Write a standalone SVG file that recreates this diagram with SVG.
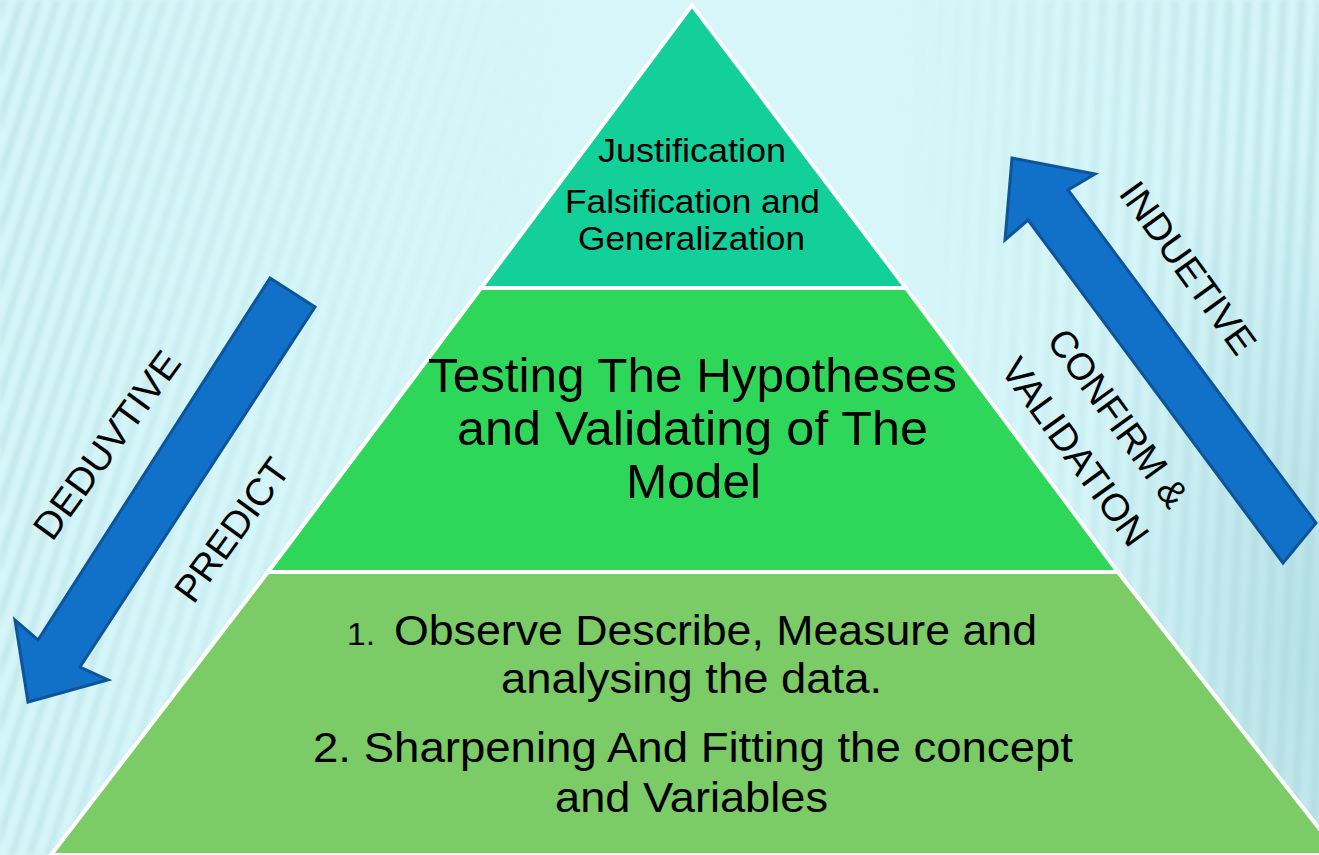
<svg xmlns="http://www.w3.org/2000/svg" width="1319" height="855" viewBox="0 0 1319 855">
<style>
.pyr{font-family:"Liberation Sans Narrow","Liberation Sans",Arial,sans-serif;fill:#000;}
.lbl{font-family:"Liberation Sans",Arial,sans-serif;font-size:38px;fill:#000;text-anchor:middle;}
.band{stroke:#fff;stroke-width:4;stroke-linejoin:miter;}
.arrow{fill:#1170C8;stroke:#0D5499;stroke-width:3;stroke-linejoin:miter;}
</style>
<defs>
<pattern id="diag" width="17" height="40" patternUnits="userSpaceOnUse" patternTransform="rotate(18)">
<rect x="0" y="0" width="7" height="40" fill="#BCE4E9"/>
</pattern>
<pattern id="vert" width="18" height="40" patternUnits="userSpaceOnUse" patternTransform="rotate(3)">
<rect x="0" y="0" width="8" height="40" fill="#B8E0E5"/>
</pattern>
<filter id="soft" x="0" y="0" width="1" height="1">
<feGaussianBlur stdDeviation="2"/>
</filter>
<linearGradient id="fadeL" x1="0" y1="0" x2="1" y2="0">
<stop offset="0" stop-color="#fff" stop-opacity="0.75"/>
<stop offset="0.6" stop-color="#fff" stop-opacity="0.3"/>
<stop offset="1" stop-color="#fff" stop-opacity="0"/>
</linearGradient>
<linearGradient id="fadeR" x1="0" y1="0" x2="1" y2="0">
<stop offset="0" stop-color="#fff" stop-opacity="0"/>
<stop offset="0.5" stop-color="#fff" stop-opacity="0.4"/>
<stop offset="1" stop-color="#fff" stop-opacity="0.7"/>
</linearGradient>
<radialGradient id="shadeR" cx="1" cy="0.75" r="0.6">
<stop offset="0" stop-color="#A3D4DA" stop-opacity="0.6"/>
<stop offset="1" stop-color="#A3D4DA" stop-opacity="0"/>
</radialGradient>
<mask id="mL"><rect x="0" y="0" width="560" height="855" fill="url(#fadeL)"/></mask>
<mask id="mR"><rect x="900" y="0" width="419" height="855" fill="url(#fadeR)"/></mask>
</defs>

<g id="background">
<rect x="0" y="0" width="1319" height="855" fill="#D6F6F9"/>
<g mask="url(#mL)"><rect x="0" y="0" width="560" height="855" fill="url(#diag)" filter="url(#soft)"/></g>
<g mask="url(#mR)"><rect x="900" y="0" width="419" height="855" fill="url(#vert)" filter="url(#soft)"/></g>
<rect x="900" y="0" width="419" height="855" fill="url(#shadeR)"/>
</g>

<g id="band-top">
<polygon class="band" points="692,5 481,288 906,288" fill="#13CF99"/>
<text class="pyr" font-size="33" x="598" y="162" textLength="188" lengthAdjust="spacingAndGlyphs">Justification</text>
<text class="pyr" font-size="33" x="565" y="213" textLength="255" lengthAdjust="spacingAndGlyphs">Falsification and</text>
<text class="pyr" font-size="33" x="578" y="250" textLength="227" lengthAdjust="spacingAndGlyphs">Generalization</text>
</g>

<g id="band-middle">
<polygon class="band" points="481,288 906,288 1118,572 268,572" fill="#2ED75A"/>
<text class="pyr" font-size="48" x="428" y="392" textLength="529" lengthAdjust="spacingAndGlyphs">Testing The Hypotheses</text>
<text class="pyr" font-size="48" x="457" y="445" textLength="471" lengthAdjust="spacingAndGlyphs">and Validating of The</text>
<text class="pyr" font-size="48" x="626" y="498" textLength="135" lengthAdjust="spacingAndGlyphs">Model</text>
</g>

<g id="band-bottom">
<polygon class="band" points="268,572 1118,572 1340,855 51,855" fill="#7BCB66"/>
<text class="pyr" font-size="31" x="347" y="645" textLength="28" lengthAdjust="spacingAndGlyphs">1.</text>
<text class="pyr" font-size="43" x="394" y="645" textLength="643" lengthAdjust="spacingAndGlyphs">Observe Describe, Measure and</text>
<text class="pyr" font-size="43" x="501" y="693" textLength="381" lengthAdjust="spacingAndGlyphs">analysing the data.</text>
<text class="pyr" font-size="43" x="313" y="762" textLength="760" lengthAdjust="spacingAndGlyphs">2. Sharpening And Fitting the concept</text>
<text class="pyr" font-size="43" x="555" y="812" textLength="273" lengthAdjust="spacingAndGlyphs">and Variables</text>
</g>

<g id="connectors">
<path id="arrow-deductive" class="arrow" d="M270,278 L315,307 L80,667 L108,680 L28,702 L15,620 L38,640 Z"/>
<path id="arrow-inductive" class="arrow" d="M1012,158 L1095,174 L1068,190 L1316,523 L1283,563 L1028,220 L1005,240 Z"/>
</g>

<g id="label-deductive">
<text class="lbl" transform="translate(107,445) rotate(-54)" dy="13" textLength="222" lengthAdjust="spacingAndGlyphs">DEDUVTIVE</text>
</g>
<g id="label-predict">
<text class="lbl" transform="translate(232,530) rotate(-54)" dy="13" textLength="167" lengthAdjust="spacingAndGlyphs">PREDICT</text>
</g>
<g id="label-inductive">
<text class="lbl" transform="translate(1188,268) rotate(54)" dy="13" textLength="203" lengthAdjust="spacingAndGlyphs">INDUETIVE</text>
</g>
<g id="label-confirm">
<text class="lbl" transform="translate(1118,418) rotate(54)" dy="13" textLength="210" lengthAdjust="spacingAndGlyphs">CONFIRM &amp;</text>
<text class="lbl" transform="translate(1075,452) rotate(54)" dy="13" textLength="222" lengthAdjust="spacingAndGlyphs">VALIDATION</text>
</g>
</svg>
